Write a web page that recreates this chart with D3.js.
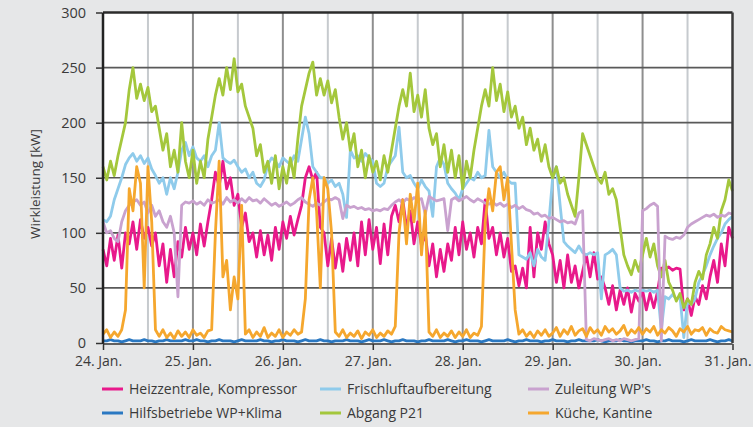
<!DOCTYPE html>
<html><head><meta charset="utf-8">
<script src="https://cdn.jsdelivr.net/npm/d3@7"></script>
<style>html,body{margin:0;padding:0;background:#e6e7e8;}svg{display:block;}</style>
</head><body><svg id="c" width="753" height="427"></svg>
<script>
// hourly readings starting 24 Jan 00:00 (169 points, h0..h168)
const startDay = "2014-01-24";
const stepHours = 1;
const dayLabels = ["24. Jan.","25. Jan.","26. Jan.","27. Jan.","28. Jan.","29. Jan.","30. Jan.","31. Jan."];
const yTicks = [0,50,100,150,200,250,300];

const heizzentrale = [
 85,70,95,75,98,68,100,90,110,85,112,95,105,88,100,70,90,55,85,60,92,78,105,85,
 100,80,108,88,110,130,155,142,165,140,150,125,135,105,118,92,100,78,102,80,98,75,105,85,
 110,95,115,98,112,125,150,160,148,155,105,100,70,95,68,90,65,95,75,100,70,110,80,112,
 85,105,72,108,80,115,125,110,130,105,120,90,110,88,100,70,90,60,85,65,90,75,105,80,
 110,85,100,78,105,90,130,95,105,80,100,78,95,65,70,52,68,50,105,60,100,85,110,90,
 80,55,75,50,80,55,70,50,65,80,60,82,58,60,50,35,52,30,48,35,50,28,45,38,
 48,30,45,32,47,68,67,69,66,68,67,30,40,25,42,35,52,40,60,75,55,90,70,105,
 95];
const hilfsbetriebe = [
 2,2,3,2,2,1,2,3,2,2,2,3,2,2,1,2,2,3,2,2,2,2,3,2,
 2,3,2,2,1,2,2,3,2,2,2,1,2,3,2,2,2,2,3,2,2,1,2,2,
 3,2,2,2,1,2,3,2,2,2,3,2,2,1,2,2,2,3,2,2,2,1,2,3,
 2,2,2,3,2,1,2,2,3,2,2,2,1,2,2,3,2,2,2,2,3,2,1,2,
 2,3,2,2,2,1,2,3,2,2,2,2,3,2,1,2,2,3,2,2,2,1,2,2,
 3,2,2,2,1,2,2,3,2,2,2,2,3,2,1,2,2,2,3,2,2,1,2,2,
 2,3,2,2,1,2,2,3,2,2,2,1,2,3,2,2,2,2,3,2,1,2,2,3,
 2];
const frischluft = [
 112,110,115,130,140,150,162,168,172,165,170,163,168,158,152,145,150,135,150,140,155,175,182,170,
 178,168,165,170,160,170,175,200,168,165,163,166,160,155,158,150,155,145,142,148,162,168,165,160,
 168,165,162,170,165,185,205,190,160,155,150,150,145,148,142,145,135,114,175,168,170,165,172,168,
 165,145,142,145,160,165,170,196,155,150,152,145,140,148,142,138,115,160,168,162,145,140,136,130,
 140,145,150,148,155,150,152,193,160,155,150,155,148,145,145,80,78,76,82,70,85,78,75,110,
 150,160,125,92,88,85,82,88,82,80,82,80,82,40,80,82,85,80,50,47,48,46,48,47,
 48,47,48,46,48,12,42,40,44,40,42,5,38,35,40,55,62,70,80,88,95,100,108,112,
 115];
const abgangP21 = [
 160,148,165,152,170,185,200,230,250,222,235,220,232,210,215,195,175,190,160,175,155,200,165,150,
 175,145,165,150,185,205,225,240,225,250,230,258,228,235,215,205,195,170,180,155,165,145,170,140,
 160,145,168,150,185,215,230,245,255,225,240,225,238,218,230,205,185,200,175,190,160,175,150,170,
 155,165,148,170,155,175,195,215,230,215,245,210,225,205,230,195,180,190,160,180,155,175,150,170,
 140,165,150,175,195,215,230,215,250,220,235,210,228,205,215,195,205,180,195,175,185,165,180,160,
 150,160,145,150,135,125,115,150,190,180,170,160,150,145,155,135,140,130,105,80,70,62,75,65,
 80,95,78,90,70,60,75,55,48,38,45,32,40,35,55,65,58,80,90,105,95,120,130,148,
 138];
const zuleitungWP = [
 110,100,102,95,92,110,120,125,128,130,125,128,118,125,115,120,110,105,115,100,42,125,128,127,
 129,126,128,125,130,127,128,130,126,132,128,130,127,131,128,132,129,130,127,131,128,125,127,124,
 126,128,125,127,130,132,128,126,124,127,125,128,131,130,132,130,113,125,123,124,122,123,121,122,
 120,121,120,122,121,125,128,130,127,131,129,132,130,131,117,133,131,129,130,131,102,130,132,129,
 131,133,130,128,131,129,127,126,128,125,127,124,126,123,125,122,124,121,120,117,118,115,116,113,
 114,112,110,111,109,110,108,118,120,3,2,4,3,2,3,4,2,3,2,4,3,2,3,4,
 120,122,125,127,124,2,97,95,94,96,95,98,105,108,110,112,114,116,115,117,114,116,115,118,
 117];
const kueche = [
 8,12,5,10,6,12,30,140,120,160,145,50,160,110,12,6,12,5,9,4,11,6,10,5,
 12,7,9,5,11,12,100,165,60,75,30,60,40,125,8,12,5,10,6,14,5,9,6,12,
 5,10,7,12,8,10,40,130,150,120,50,150,140,100,10,6,12,5,9,6,11,4,10,7,
 12,5,9,6,11,8,15,100,130,90,135,110,145,80,120,10,6,12,5,9,6,11,5,10,
 6,12,5,9,7,15,110,140,120,155,160,130,150,90,30,8,12,6,10,5,11,7,12,6,
 9,14,6,12,8,15,7,11,13,6,14,9,12,7,15,10,13,8,11,16,7,12,9,14,
 8,13,10,15,7,12,9,14,11,6,13,10,15,8,12,11,14,7,13,10,9,15,12,11,
 10];

const seriesNames = ["Heizzentrale, Kompressor","Hilfsbetriebe WP+Klima","Frischluftaufbereitung","Abgang P21","Zuleitung WP's","Küche, Kantine"];
const seriesColors = ["#e8198b","#2a78c2","#8fcbeb","#a4c73c","#c9a2cf","#f5a72e"];
const seriesValues = [heizzentrale,hilfsbetriebe,frischluft,abgangP21,zuleitungWP,kueche];

(function draw() {
const svg = d3.select("#c");
const W = 753, H = 427;
const pLeft = 103, pRight = 732.5, pTop = 12.5, pBottom = 343;
const t0 = d3.timeParse("%Y-%m-%d")(startDay);
const t1 = d3.timeDay.offset(t0, 7);
const x = d3.scaleTime().domain([t0, t1]).range([pLeft, pRight]);
const y = d3.scaleLinear().domain([0, 300]).range([pBottom, pTop]);
const font = "'Open Sans', 'Noto Sans', sans-serif";
const textCol = "#3a3a3a";

svg.append("rect").attr("width", W).attr("height", H).attr("fill", "#e6e7e8");
svg.append("rect").attr("x", pLeft).attr("y", pTop).attr("width", pRight-pLeft).attr("height", pBottom-pTop).attr("fill", "#ffffff");

const halfDays = d3.timeHour.every(12).range(t0, d3.timeHour.offset(t1, 1));
svg.append("g").selectAll("line").data(halfDays.filter(d => +d !== +t0 && +d !== +t1)).join("line")
  .attr("x1", d => x(d)).attr("x2", d => x(d)).attr("y1", pTop).attr("y2", pBottom)
  .attr("stroke", d => d.getHours() === 12 ? "#c6cace" : "#8e8e8e").attr("stroke-width", 2);
svg.append("g").selectAll("line").data(yTicks.filter(v => v > 0 && v < 300)).join("line")
  .attr("x1", pLeft).attr("x2", pRight).attr("y1", d => y(d)).attr("y2", d => y(d))
  .attr("stroke", "#595959").attr("stroke-width", 1.6);

const line = d3.line().x((d, i) => x(d3.timeHour.offset(t0, i * stepHours))).y(d => y(d));
seriesValues.forEach((vals, k) => {
  svg.append("path").datum(vals).attr("d", line).attr("fill", "none")
    .attr("stroke", seriesColors[k]).attr("stroke-width", 2.8).attr("stroke-linejoin", "round");
});

svg.append("line").attr("x1", pLeft).attr("x2", pRight).attr("y1", pTop).attr("y2", pTop).attr("stroke", "#2b2b2b").attr("stroke-width", 2.5);
svg.append("line").attr("x1", pRight).attr("x2", pRight).attr("y1", pTop).attr("y2", pBottom).attr("stroke", "#3a3a3a").attr("stroke-width", 2.5);
svg.append("line").attr("x1", pLeft).attr("x2", pLeft).attr("y1", pTop).attr("y2", pBottom+1).attr("stroke", "#222").attr("stroke-width", 2.5);
svg.append("line").attr("x1", pLeft).attr("x2", pRight).attr("y1", pBottom+1).attr("y2", pBottom+1).attr("stroke", "#333").attr("stroke-width", 1.5);

const yAxis = d3.axisLeft(y).tickValues(yTicks).tickSize(6).tickPadding(10);
const gy = svg.append("g").attr("transform", `translate(${pLeft-1},0)`).call(yAxis);
gy.select(".domain").remove();
gy.selectAll("line").attr("stroke", "#333").attr("stroke-width", 1.5);
gy.selectAll("text").attr("font-family", font).attr("font-size", 14.5).attr("fill", textCol);

const days = d3.timeDay.every(1).range(t0, d3.timeHour.offset(t1, 1));
const xAxis = d3.axisBottom(x).tickValues(days).tickSize(6).tickPadding(6).tickFormat((d, i) => dayLabels[i]);
const gx = svg.append("g").attr("transform", `translate(0,${pBottom+1})`).call(xAxis);
gx.select(".domain").remove();
gx.selectAll("line").attr("stroke", "#333").attr("stroke-width", 1.5);
gx.selectAll("text").attr("font-family", font).attr("font-size", 14).attr("fill", textCol).attr("dx", -5);

svg.append("text").attr("transform", "translate(40,184) rotate(-90)").attr("text-anchor", "middle")
  .attr("font-family", font).attr("font-size", 13.5).attr("fill", textCol).text("Wirkleistung [kW]");

const legCols = [102, 320, 528];
const legRows = [389, 413];
const legOrder = [[0,0,0],[1,0,1],[2,1,0],[3,1,1],[4,2,0],[5,2,1]];
legOrder.forEach(([k, c, r]) => {
  const g = svg.append("g");
  g.append("line").attr("x1", legCols[c]).attr("x2", legCols[c] + 21).attr("y1", legRows[r]).attr("y2", legRows[r])
    .attr("stroke", seriesColors[k]).attr("stroke-width", 3);
  g.append("text").attr("x", legCols[c] + 27).attr("y", legRows[r] + 5).attr("font-family", font)
    .attr("font-size", 14).attr("fill", textCol).text(seriesNames[k]);
});
})();
</script></body></html>
